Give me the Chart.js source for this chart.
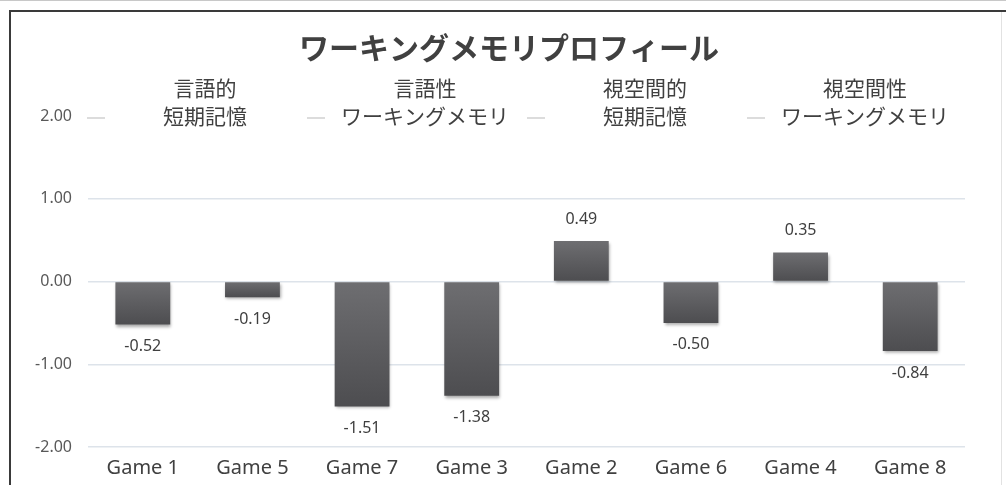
<!DOCTYPE html>
<html>
<head>
<meta charset="utf-8">
<script src="https://cdn.jsdelivr.net/npm/chart.js@4.4.1/dist/chart.umd.min.js"></script>
<style>
  html, body { margin: 0; padding: 0; background: #fff; }
  #wrap { position: relative; width: 1006px; height: 485px; }
</style>
</head>
<body>
<div id="wrap"><canvas id="c" width="1006" height="485"></canvas></div>
<script>
var games = ['Game 1', 'Game 5', 'Game 7', 'Game 3', 'Game 2', 'Game 6', 'Game 4', 'Game 8'];
var scores = [-0.52, -0.19, -1.51, -1.38, 0.49, -0.50, 0.35, -0.84];
var legendLabels = [['言語的', '短期記憶'], ['言語性', 'ワーキングメモリ'], ['視空間的', '短期記憶'], ['視空間性', 'ワーキングメモリ']];
var chartTitle = 'ワーキングメモリプロフィール';

var JP = '"Noto Sans", "Noto Sans CJK JP", sans-serif';

var framePlugin = {
  id: 'frame',
  beforeDraw(chart) {
    let ctx = chart.ctx;
    ctx.save();
    ctx.fillStyle = '#fff';
    ctx.fillRect(0, 0, chart.width, chart.height);
    ctx.strokeStyle = '#c8c8c8'; ctx.lineWidth = 1;
    ctx.beginPath(); ctx.moveTo(0, 0.5); ctx.lineTo(chart.width, 0.5); ctx.stroke();
    ctx.strokeStyle = '#3a3a3a'; ctx.lineWidth = 2;
    ctx.beginPath(); ctx.moveTo(10, chart.height); ctx.lineTo(10, 11); ctx.lineTo(chart.width, 11); ctx.stroke();
    ctx.strokeStyle = '#e2e2e2'; ctx.lineWidth = 1;
    ctx.beginPath(); ctx.moveTo(1001.5, 12); ctx.lineTo(1001.5, chart.height); ctx.stroke();
    ctx.restore();
  },
  afterDraw(chart) {
    let ctx = chart.ctx, area = chart.chartArea;
    ctx.save();
    // title
    ctx.font = 'bold 30px ' + JP;
    ctx.fillStyle = '#404040';
    ctx.textAlign = 'center';
    ctx.textBaseline = 'middle';
    ctx.fillText(chartTitle, 509, 50);
    // legend: faint line markers with two-line labels
    ctx.font = '21px ' + JP;
    legendLabels.forEach((lines, i) => {
      let cx = area.left + 117 + i * 220;
      ctx.fillText(lines[0], cx, 90);
      ctx.fillText(lines[1], cx, 118);
      ctx.strokeStyle = '#dcdcdc'; ctx.lineWidth = 2;
      ctx.beginPath(); ctx.moveTo(cx - 118, 118); ctx.lineTo(cx - 100, 118); ctx.stroke();
    });
    ctx.restore();
  }
};

var barLabelPlugin = {
  id: 'barLabels',
  beforeDatasetsDraw(chart) {
    let ctx = chart.ctx;
    ctx.save();
    ctx.shadowColor = 'rgba(0,0,0,0.35)';
    ctx.shadowBlur = 3;
    ctx.shadowOffsetX = 1;
    ctx.shadowOffsetY = 2;
  },
  afterDatasetsDraw(chart) {
    let ctx = chart.ctx;
    ctx.restore();
    ctx.save();
    ctx.font = '16px ' + JP;
    ctx.fillStyle = '#404040';
    ctx.textAlign = 'center';
    ctx.textBaseline = 'middle';
    chart.getDatasetMeta(0).data.forEach((bar, i) => {
      let v = scores[i];
      let y = v < 0 ? bar.y + 22 : bar.y - 22;
      ctx.fillText(v.toFixed(2), bar.x, y);
    });
    ctx.restore();
  }
};

function barFill(context) {
  let chart = context.chart;
  if (!chart.chartArea || context.dataIndex === undefined) return '#5c5c5e';
  let y = chart.scales.y;
  let v = scores[context.dataIndex];
  let top = y.getPixelForValue(Math.max(v, 0));
  let bottom = y.getPixelForValue(Math.min(v, 0));
  if (!isFinite(top) || !isFinite(bottom) || top === bottom) return '#5c5c5e';
  let g = chart.ctx.createLinearGradient(0, top, 0, bottom);
  g.addColorStop(0, '#6e6e71');
  g.addColorStop(1, '#4d4d50');
  return g;
}

new Chart(document.getElementById('c'), {
  type: 'bar',
  data: {
    labels: games,
    datasets: [{ data: scores, backgroundColor: barFill, barPercentage: 0.5, categoryPercentage: 1 }]
  },
  options: {
    responsive: false,
    animation: false,
    layout: { padding: { left: 10, right: 41, top: 116, bottom: 4 } },
    plugins: {
      legend: { display: false },
      tooltip: { enabled: false },
      title: { display: false }
    },
    scales: {
      x: {
        grid: { display: false },
        border: { display: false },
        ticks: { color: '#404040', font: { family: JP, size: 20 }, padding: 1 }
      },
      y: {
        min: -2, max: 2,
        afterFit(scale) { scale.width = 78; },
        border: { display: false },
        grid: {
          drawTicks: false,
          color: ctx => ctx.tick && ctx.tick.value === 2 ? 'rgba(0,0,0,0)' : '#dde3ea',
          lineWidth: 1.5
        },
        ticks: {
          stepSize: 1, padding: 16, color: '#595959',
          font: { family: JP, size: 16 },
          callback: v => v.toFixed(2)
        }
      }
    }
  },
  plugins: [framePlugin, barLabelPlugin]
});
</script>
</body>
</html>
